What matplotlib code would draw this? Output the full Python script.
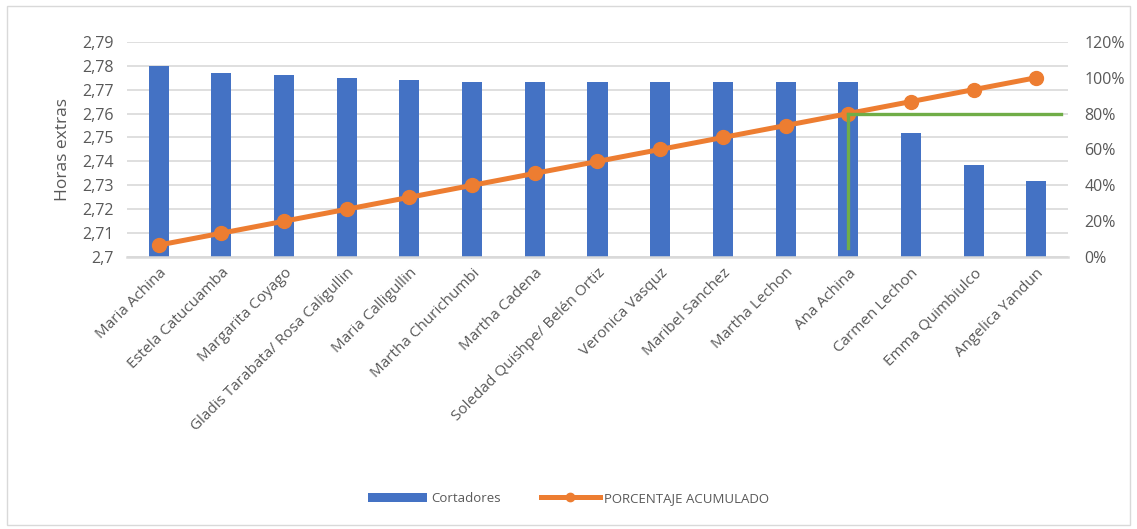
import matplotlib
matplotlib.use("Agg")
import matplotlib.pyplot as plt
from matplotlib.ticker import FuncFormatter, MultipleLocator
from matplotlib.patches import Rectangle

plt.rcParams['font.family'] = ['Open Sans', 'DejaVu Sans']

nombres = ["Maria Achina", "Estela Catucuamba", "Margarita Coyago",
           "Gladis Tarabata/ Rosa Caligullin", "Maria Calligullin",
           "Martha Churichumbi", "Martha Cadena", "Soledad Quishpe/ Belén Ortiz",
           "Veronica Vasquz", "Maribel Sanchez", "Martha Lechon", "Ana Achina",
           "Carmen Lechon", "Emma Quimbiulco", "Angelica Yandun"]
horas = [2.780, 2.777, 2.776, 2.775, 2.774, 2.773, 2.773, 2.773, 2.773,
         2.773, 2.773, 2.773, 2.752, 2.7385, 2.732]
acumulado = [6.67, 13.33, 20.0, 26.67, 33.33, 40.0, 46.67, 53.33, 60.0,
             66.67, 73.33, 80.0, 86.67, 93.33, 100.0]
corte_idx = 11  # Ana Achina, 80 %
corte_pct = 80

gris = "#595959"
x = list(range(len(nombres)))

fig = plt.figure(figsize=(11.37, 5.29), dpi=100)
ax = fig.add_axes([0.112, 0.514, 0.827, 0.407])
ax2 = ax.twinx()

ax.bar(x, [h - 2.7 for h in horas], bottom=2.7, width=0.32, color="#4472C4",
       label="Cortadores", zorder=2)
ax.set_ylim(2.7, 2.79)
ax.set_xlim(-0.5, len(nombres) - 0.5)
ax.yaxis.set_major_locator(MultipleLocator(0.01))
ax.yaxis.set_major_formatter(FuncFormatter(
    lambda v, p: ("%.2f" % v).rstrip("0").replace(".", ",")))
ax.grid(axis="y", color="#d9d9d9", lw=1.2, zorder=0)
ax.set_axisbelow(True)
ax.set_ylabel("Horas extras", color=gris, fontsize=12.5, labelpad=8)
ax.set_xticks(x)
ax.set_xticklabels(nombres, rotation=45, ha="right", rotation_mode="anchor",
                   fontsize=11, color=gris)
ax.tick_params(axis="x", length=0, pad=6)
ax.tick_params(axis="y", length=0, colors=gris, labelsize=11.5, pad=10)

ax2.plot(x, acumulado, color="#ED7D31", lw=3.6, marker="o", markersize=10,
         label="PORCENTAJE ACUMULADO", zorder=3)
ax2.plot([corte_idx, corte_idx], [5, corte_pct], color="#70AD47", lw=2.4, zorder=4)
ax2.plot([corte_idx, len(nombres) - 0.6], [corte_pct, corte_pct], color="#70AD47",
         lw=2.4, zorder=4)
ax2.set_ylim(0, 120)
ax2.yaxis.set_major_locator(MultipleLocator(20))
ax2.yaxis.set_major_formatter(FuncFormatter(lambda v, p: "%d%%" % v))
ax2.tick_params(axis="y", length=0, colors=gris, labelsize=11.5, pad=12)

for a in (ax, ax2):
    for s in ("top", "left", "right"):
        a.spines[s].set_visible(False)
ax.spines["bottom"].set_color("#d9d9d9")
ax.spines["bottom"].set_linewidth(1.8)
ax2.spines["bottom"].set_visible(False)

h1, l1 = ax.get_legend_handles_labels()
h2, l2 = ax2.get_legend_handles_labels()
fig.legend(h1 + h2, l1 + l2, loc="center", bbox_to_anchor=(0.5, 0.058), ncol=2,
           frameon=False, fontsize=9.5, labelcolor=gris, handlelength=4.5,
           columnspacing=3, handletextpad=0.3, markerscale=0.6)

fig.patches.append(Rectangle((0.006, 0.008), 0.988, 0.98, transform=fig.transFigure,
                             fill=False, edgecolor="#d9d9d9", lw=1))

fig.savefig("out.png", dpi=100)
